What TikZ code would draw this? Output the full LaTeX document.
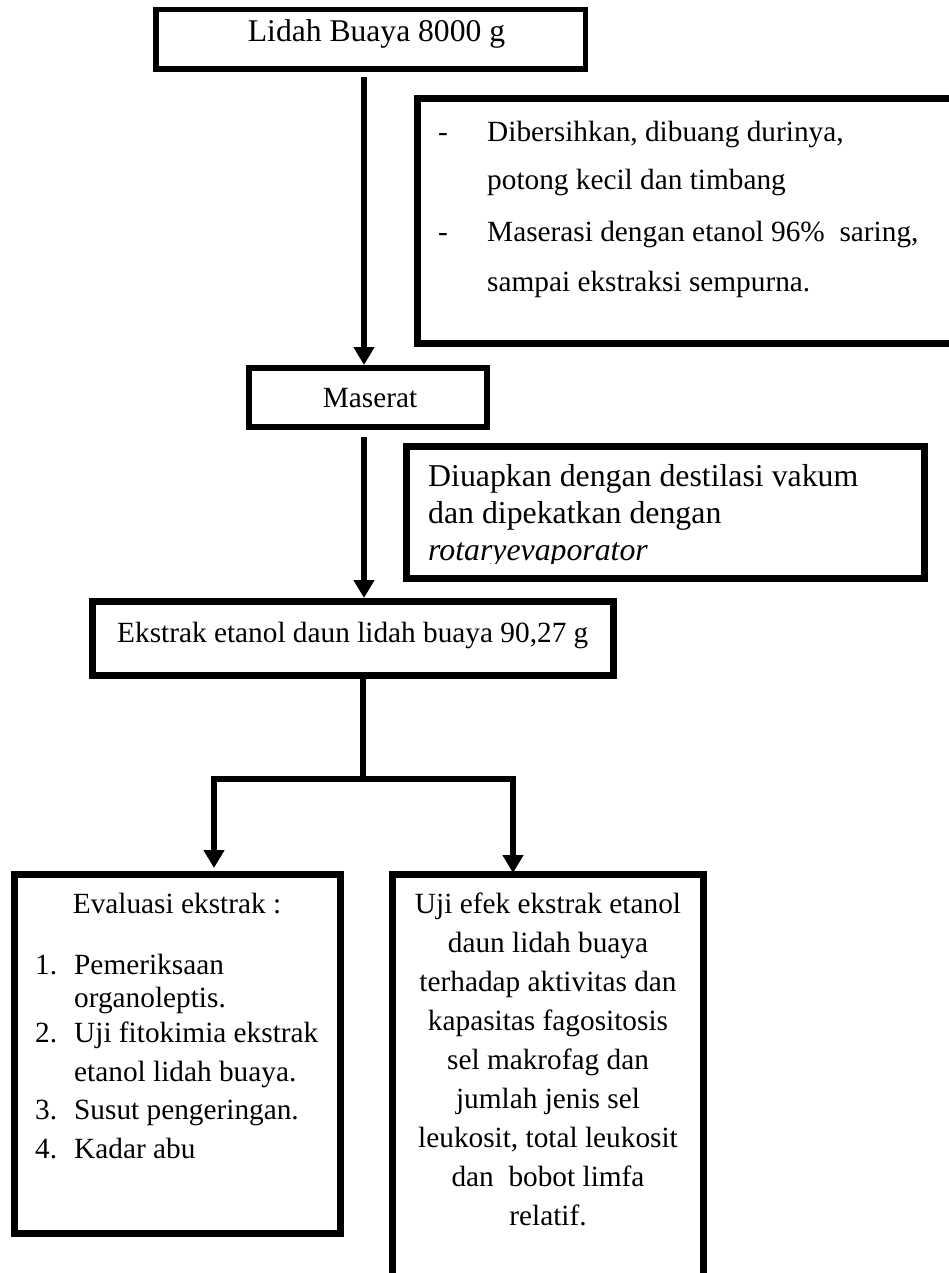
\documentclass[tikz,border=0pt]{standalone}
\usepackage{fontspec}
\setmainfont{Liberation Serif}
\usetikzlibrary{arrows.meta}
\begin{document}
\begin{tikzpicture}[x=1pt,y=-1pt,
  box/.style={draw=black,line width=7pt,inner sep=0pt,line join=miter},
  txt/.style={inner sep=0pt,font=\fontsize{29.3}{35}\selectfont},
  bigtxt/.style={inner sep=0pt,font=\fontsize{31.8}{37}\selectfont},
  arr/.style={line width=6pt,line join=miter,-{Triangle[width=20pt,length=18pt]}},
  ln/.style={line width=6pt}]
\useasboundingbox (0,0) rectangle (949,1273);
\fill[white] (0,0) rectangle (949,1273);
\clip (0,0) rectangle (949,1273);

% boxes
\node[box,line width=5.5pt,minimum width=429.5pt,minimum height=59.5pt] (b1) at (370.5,39.5) {};
\node[box,minimum width=562.5pt,minimum height=245pt] (b2) at (698.75,221) {};
\node[box,line width=6pt,minimum width=238pt,minimum height=59pt] (m) at (368,397.5) {};
\node[box,minimum width=518pt,minimum height=132pt] (b3) at (665.5,512.5) {};
\node[box,minimum width=521pt,minimum height=74pt] (e) at (353,638.5) {};
\node[box,minimum width=326pt,minimum height=359pt] (lb) at (177.5,1054) {};
\node[box,minimum width=311pt,minimum height=445.5pt] (rb) at (548,1097.25) {};

% texts
\node[txt,font=\fontsize{31.6}{37}\selectfont,anchor=base] (t1) at (376.5,42) {Lidah Buaya 8000 g};

\node[txt,anchor=base west] (d1) at (438,142) {-};
\node[txt,anchor=base west] (t2a) at (487,142) {Dibersihkan, dibuang durinya,};
\node[txt,anchor=base west] (t2b) at (487,190) {potong kecil dan timbang};
\node[txt,anchor=base west] (d2) at (438,242) {-};
\node[txt,anchor=base west] (t2c) at (487,242) {Maserasi dengan etanol 96\%\ \ saring,};
\node[txt,anchor=base west] (t2d) at (487,291) {sampai ekstraksi sempurna.};

\node[txt,anchor=base] (tm) at (370,407) {Maserat};

\node[bigtxt,anchor=base west] (t3a) at (428,486) {Diuapkan dengan destilasi vakum};
\node[bigtxt,anchor=base west] (t3b) at (428,523) {dan dipekatkan dengan};
\begin{scope}
\clip (410,530) rectangle (920,563);
\node[bigtxt,anchor=base west] (t3c) at (428,560) {\itshape rotaryevaporator};
\end{scope}

\node[txt,anchor=base west] (te) at (117,642) {Ekstrak etanol daun lidah buaya 90,27 g};

\node[txt,anchor=base] (tl0) at (177,913) {Evaluasi ekstrak :};
\node[txt,anchor=base west] (n1) at (35,974) {1.};
\node[txt,anchor=base west] (tl1) at (74,974) {Pemeriksaan};
\node[txt,anchor=base west] (tl1b) at (74,1007) {organoleptis.};
\node[txt,anchor=base west] (n2) at (35,1042) {2.};
\node[txt,anchor=base west] (tl2) at (74,1042) {Uji fitokimia ekstrak};
\node[txt,anchor=base west] (tl2b) at (74,1081) {etanol lidah buaya.};
\node[txt,anchor=base west] (n3) at (35,1119) {3.};
\node[txt,anchor=base west] (tl3) at (74,1119) {Susut pengeringan.};
\node[txt,anchor=base west] (n4) at (35,1158) {4.};
\node[txt,anchor=base west] (tl4) at (74,1158) {Kadar abu};

\node[txt,anchor=base] (r1) at (548,913) {Uji efek ekstrak etanol};
\node[txt,anchor=base] (r2) at (548,952) {daun lidah buaya};
\node[txt,anchor=base] (r3) at (548,991) {terhadap aktivitas dan};
\node[txt,anchor=base] (r4) at (548,1030) {kapasitas fagositosis};
\node[txt,anchor=base] (r5) at (548,1069) {sel makrofag dan};
\node[txt,anchor=base] (r6) at (548,1108) {jumlah jenis sel};
\node[txt,anchor=base] (r7) at (548,1147) {leukosit, total leukosit};
\node[txt,anchor=base] (r8) at (548,1186) {dan\ \ bobot limfa};
\node[txt,anchor=base] (r9) at (548,1225) {relatif.};

% connectors
\coordinate (a1) at (364,77);
\coordinate (a2) at (364,437);
\coordinate (jc) at (363,779);
\coordinate (jl) at (214,779);
\coordinate (jr) at (513,779);
\coordinate (lt) at (214,868);
\coordinate (rt) at (513,873);
\draw[arr] (a1) -- (a1 |- m.north);
\draw[arr] (a2) -- (a2 |- e.north);
\draw[ln] (e.south -| jc) -- ([yshift=-3pt]jc);
\draw[arr] (jc) -- (jl) -- (lt);
\draw[arr] (jc) -- (jr) -- (rt);
\end{tikzpicture}
\end{document}
